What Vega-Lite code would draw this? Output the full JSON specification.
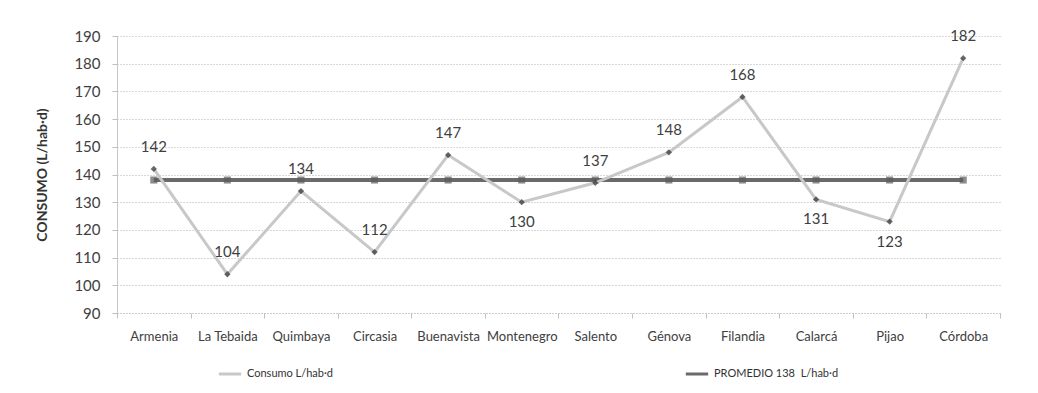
{
  "$schema": "https://vega.github.io/schema/vega-lite/v6.json",
  "width": 883,
  "height": 277,
  "autosize": {"type": "none"},
  "padding": {"left": 117, "top": 36, "right": 38, "bottom": 80},
  "background": "white",
  "config": {"font": "Lato", "view": {"stroke": null}},
  "data": {
    "values": [
      {"municipio": "Armenia", "serie": "Consumo L/hab·d", "valor": 142, "pos": "arriba"},
      {"municipio": "La Tebaida", "serie": "Consumo L/hab·d", "valor": 104, "pos": "arriba"},
      {"municipio": "Quimbaya", "serie": "Consumo L/hab·d", "valor": 134, "pos": "arriba"},
      {"municipio": "Circasia", "serie": "Consumo L/hab·d", "valor": 112, "pos": "arriba"},
      {"municipio": "Buenavista", "serie": "Consumo L/hab·d", "valor": 147, "pos": "arriba"},
      {"municipio": "Montenegro", "serie": "Consumo L/hab·d", "valor": 130, "pos": "abajo"},
      {"municipio": "Salento", "serie": "Consumo L/hab·d", "valor": 137, "pos": "arriba"},
      {"municipio": "Génova", "serie": "Consumo L/hab·d", "valor": 148, "pos": "arriba"},
      {"municipio": "Filandia", "serie": "Consumo L/hab·d", "valor": 168, "pos": "arriba"},
      {"municipio": "Calarcá", "serie": "Consumo L/hab·d", "valor": 131, "pos": "abajo"},
      {"municipio": "Pijao", "serie": "Consumo L/hab·d", "valor": 123, "pos": "abajo"},
      {"municipio": "Córdoba", "serie": "Consumo L/hab·d", "valor": 182, "pos": "arriba"},
      {"municipio": "Armenia", "serie": "PROMEDIO 138\u00a0 L/hab·d", "valor": 138},
      {"municipio": "La Tebaida", "serie": "PROMEDIO 138\u00a0 L/hab·d", "valor": 138},
      {"municipio": "Quimbaya", "serie": "PROMEDIO 138\u00a0 L/hab·d", "valor": 138},
      {"municipio": "Circasia", "serie": "PROMEDIO 138\u00a0 L/hab·d", "valor": 138},
      {"municipio": "Buenavista", "serie": "PROMEDIO 138\u00a0 L/hab·d", "valor": 138},
      {"municipio": "Montenegro", "serie": "PROMEDIO 138\u00a0 L/hab·d", "valor": 138},
      {"municipio": "Salento", "serie": "PROMEDIO 138\u00a0 L/hab·d", "valor": 138},
      {"municipio": "Génova", "serie": "PROMEDIO 138\u00a0 L/hab·d", "valor": 138},
      {"municipio": "Filandia", "serie": "PROMEDIO 138\u00a0 L/hab·d", "valor": 138},
      {"municipio": "Calarcá", "serie": "PROMEDIO 138\u00a0 L/hab·d", "valor": 138},
      {"municipio": "Pijao", "serie": "PROMEDIO 138\u00a0 L/hab·d", "valor": 138},
      {"municipio": "Córdoba", "serie": "PROMEDIO 138\u00a0 L/hab·d", "valor": 138}
    ]
  },
  "encoding": {
    "x": {
      "field": "municipio",
      "type": "nominal",
      "sort": null,
      "scale": {"type": "band", "paddingInner": 0, "paddingOuter": 0},
      "axis": {
        "title": null,
        "labelAngle": 0,
        "labelFontSize": 13,
        "labelColor": "#404040",
        "labelPadding": 12,
        "tickBand": "extent",
        "tickColor": "#c0c0c0",
        "tickSize": 5,
        "domainColor": "#c0c0c0",
        "domainDash": [1, 2],
        "grid": false
      }
    },
    "y": {
      "field": "valor",
      "type": "quantitative",
      "scale": {"domain": [90, 190], "nice": false, "zero": false},
      "axis": {
        "title": "CONSUMO (L/hab·d)",
        "titleFontSize": 14,
        "titleFontWeight": "bold",
        "titleColor": "#333333",
        "titlePadding": 24,
        "values": [90, 100, 110, 120, 130, 140, 150, 160, 170, 180, 190],
        "labelFontSize": 15,
        "labelColor": "#404040",
        "labelPadding": 12,
        "tickSize": 5,
        "tickColor": "#c0c0c0",
        "domainColor": "#c8c8c8",
        "grid": true,
        "gridDash": [1, 2],
        "gridColor": "#b0b0b0"
      }
    }
  },
  "layer": [
    {
      "transform": [{"filter": "datum.serie !== 'Consumo L/hab·d'"}],
      "mark": {"type": "line", "strokeWidth": 4},
      "encoding": {
        "color": {
          "field": "serie",
          "type": "nominal",
          "scale": {"domain": ["Consumo L/hab·d", "PROMEDIO 138\u00a0 L/hab·d"], "range": ["#c8c8c8", "#6a6a6a"]},
          "legend": {
            "title": null,
            "orient": "none",
            "legendX": 100,
            "legendY": 325,
            "direction": "horizontal",
            "symbolType": "stroke",
            "symbolStrokeWidth": 3,
            "symbolSize": 500,
            "labelFontSize": 11,
            "labelColor": "#333333",
            "columnPadding": 345
          }
        }
      }
    },
    {
      "transform": [{"filter": "datum.serie !== 'Consumo L/hab·d'"}],
      "mark": {"type": "point", "shape": "square", "filled": true, "size": 50, "color": "#5c5c5c"},
      "encoding": {}
    },
    {
      "transform": [{"filter": "datum.serie === 'Consumo L/hab·d'"}],
      "mark": {"type": "line", "strokeWidth": 3},
      "encoding": {"color": {"field": "serie", "type": "nominal"}}
    },
    {
      "transform": [{"filter": "datum.serie === 'Consumo L/hab·d'"}],
      "mark": {"type": "point", "shape": "diamond", "filled": true, "size": 40, "color": "#2e2e2e"},
      "encoding": {}
    },
    {
      "transform": [{"filter": "datum.pos === 'arriba'"}],
      "mark": {"type": "text", "fontSize": 15, "color": "#404040", "dy": -22, "baseline": "middle"},
      "encoding": {"text": {"field": "valor", "type": "quantitative"}}
    },
    {
      "transform": [{"filter": "datum.pos === 'abajo'"}],
      "mark": {"type": "text", "fontSize": 15, "color": "#404040", "dy": 20, "baseline": "middle"},
      "encoding": {"text": {"field": "valor", "type": "quantitative"}}
    }
  ]
}
